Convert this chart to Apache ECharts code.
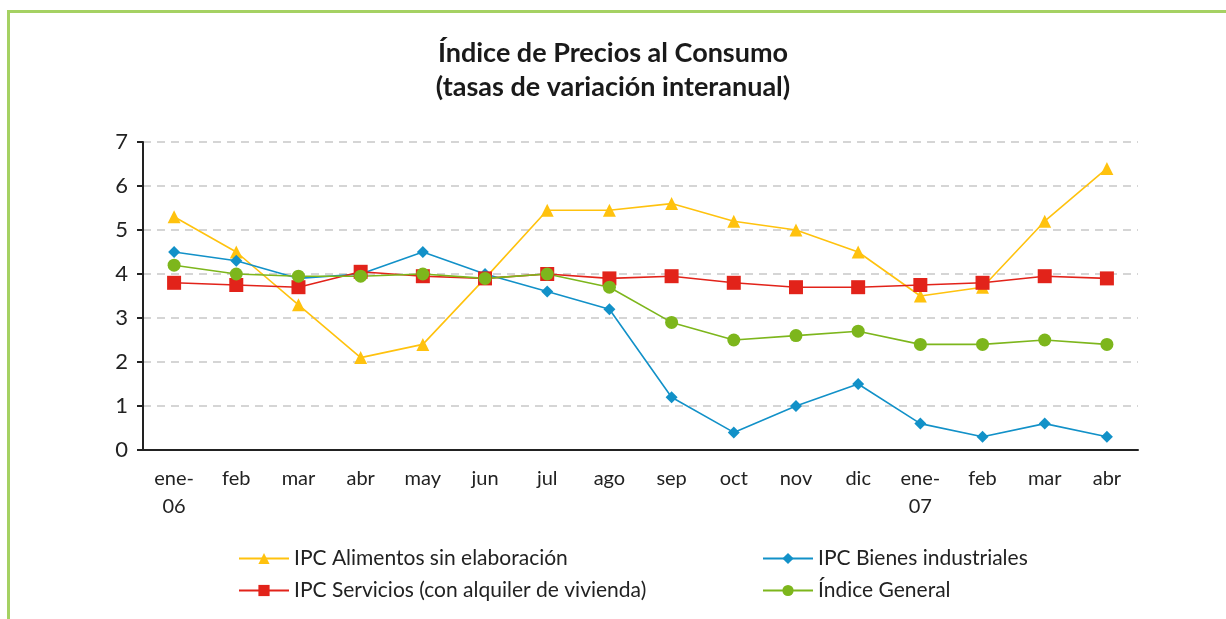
<!DOCTYPE html>
<html>
<head>
<meta charset="utf-8">
<script src="https://cdn.jsdelivr.net/npm/echarts@6/dist/echarts.min.js"></script>
<style>
  html, body { margin: 0; padding: 0; background: #fff; }
  #frame { position: absolute; left: 7px; top: 10px; width: 1219px; height: 609px;
           border-top: 3px solid #a5d163; border-left: 3px solid #a5d163; box-sizing: border-box; }
  #chart { position: absolute; left: 0; top: 0; width: 1226px; height: 619px; }
</style>
</head>
<body>
<div id="frame"></div>
<div id="chart"></div>
<script>
// meses
var meses = ['ene-\n06', 'feb', 'mar', 'abr', 'may', 'jun', 'jul', 'ago', 'sep', 'oct', 'nov', 'dic', 'ene-\n07', 'feb', 'mar', 'abr'];

// series (tasas de variación interanual)
var alimentos = [5.3, 4.5, 3.3, 2.1, 2.4, 3.9, 5.45, 5.45, 5.6, 5.2, 5.0, 4.5, 3.5, 3.7, 5.2, 6.4];
var bienes    = [4.5, 4.3, 3.9, 4.0, 4.5, 4.0, 3.6, 3.2, 1.2, 0.4, 1.0, 1.5, 0.6, 0.3, 0.6, 0.3];
var servicios = [3.8, 3.75, 3.7, 4.05, 3.95, 3.9, 4.0, 3.9, 3.95, 3.8, 3.7, 3.7, 3.75, 3.8, 3.95, 3.9];
var general   = [4.2, 4.0, 3.95, 3.95, 4.0, 3.9, 4.0, 3.7, 2.9, 2.5, 2.6, 2.7, 2.4, 2.4, 2.5, 2.4];

var nombres = ['IPC Alimentos sin elaboración', 'IPC Bienes industriales', 'IPC Servicios (con alquiler de vivienda)', 'Índice General'];
var colores = ['#ffc20e', '#1291c8', '#e2231a', '#7db61c'];

var fuente = 'Lato, "Open Sans", sans-serif';

var myChart = echarts.init(document.getElementById('chart'));

function leyenda(nombre, x, y) {
	return {
		data: [nombre],
		left: x, top: y,
		itemWidth: 50, itemHeight: 14, itemGap: 6,
		textStyle: { fontFamily: fuente, fontSize: 21, color: '#222' }
	};
}

function serie(nombre, datos, color, simbolo, tam) {
	return {
		name: nombre, type: 'line', data: datos,
		symbol: simbolo, symbolSize: tam,
		lineStyle: { color: color, width: 1.6 },
		itemStyle: { color: color },
		animation: false
	};
}

var option = {
	backgroundColor: 'transparent',
	title: {
		text: 'Índice de Precios al Consumo\n(tasas de variación interanual)',
		left: 'center', top: 31,
		textStyle: { fontFamily: fuente, fontSize: 27, fontWeight: 'bold', color: '#1a1a1a', lineHeight: 34 }
	},
	legend: [
		leyenda(nombres[0], 233, 543),
		leyenda(nombres[1], 757, 543),
		leyenda(nombres[2], 233, 575),
		leyenda(nombres[3], 757, 575)
	],
	grid: { left: 143, right: 88, top: 142, bottom: 169 },
	xAxis: {
		type: 'category', data: meses, boundaryGap: true,
		axisLine: { lineStyle: { color: '#222', width: 2 } },
		axisTick: { interval: 0, length: 6, lineStyle: { color: '#222', width: 2 } },
		axisLabel: { interval: 0, margin: 15, fontFamily: fuente, fontSize: 20, color: '#222', lineHeight: 28 }
	},
	yAxis: {
		type: 'value', min: 0, max: 7, interval: 1,
		axisLine: { show: true, lineStyle: { color: '#222', width: 2 } },
		axisTick: { show: true, length: 6, lineStyle: { color: '#222', width: 2 } },
		axisLabel: { margin: 15, fontFamily: fuente, fontSize: 22, color: '#222' },
		splitLine: { lineStyle: { color: '#c8c8c8', type: [8, 6], width: 1.5 } }
	},
	series: [
		serie(nombres[0], alimentos, colores[0], 'triangle', 13),
		serie(nombres[1], bienes, colores[1], 'diamond', 12),
		serie(nombres[2], servicios, colores[2], 'rect', 14),
		serie(nombres[3], general, colores[3], 'circle', 13)
	]
};

myChart.setOption(option);
</script>
</body>
</html>
